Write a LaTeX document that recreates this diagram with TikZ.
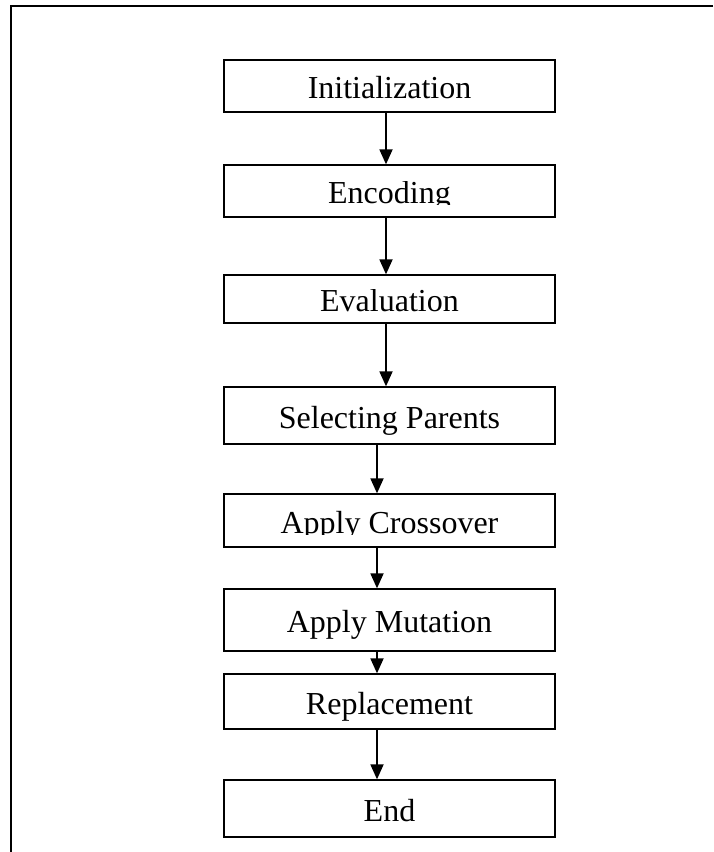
\documentclass[tikz,border=0pt]{standalone}
\usepackage{fontspec}
\setmainfont{Liberation Serif}
\usepackage{trimclip}
\usetikzlibrary{arrows.meta}

% text cut just under its baseline
\newcommand{\cuttext}[1]{\clipbox{0pt -1pt 0pt 0pt}{\raisebox{0pt}[\height][0pt]{#1}}}

\begin{document}
\begin{tikzpicture}[x=1pt, y=-1pt,
  stage/.style ={rectangle, draw, line width=1.3pt, minimum width=331pt,
                 inner sep=0pt, text height=25pt, text depth=0pt,
                 font=\fontsize{32}{36}\selectfont},
  flow/.style ={line width=1.8pt, -{Triangle[width=13pt,length=15pt]}}]
 \useasboundingbox (0,0) rectangle (713,852);
 \draw[line width=2pt] (713,6) -- (11,6) -- (11,852);

 \node[stage, minimum height=52pt] (init)  at (389.5,86)    {Initialization};
 \node[stage, minimum height=52pt] (enc)   at (389.5,191)   {\cuttext{Encoding}};
 \node[stage, minimum height=48pt] (eval)  at (389.5,299)   {\cuttext{Evaluation}};
 \node[stage, minimum height=57pt] (sel)   at (389.5,415.5) {Selecting Parents};
 \node[stage, minimum height=53pt] (cross) at (389.5,520.5) {\cuttext{Apply Crossover}};
 \node[stage, minimum height=62pt] (mut)   at (389.5,620)   {Apply Mutation};
 \node[stage, minimum height=55pt] (repl)  at (389.5,701.5) {Replacement};
 \node[stage, minimum height=57pt] (end)   at (389.5,808.5) {End};

 \draw[flow] ([xshift=-3.5pt]init.south) -- ([xshift=-3.5pt]init.south |- enc.north);
 \draw[flow] ([xshift=-3.5pt]enc.south) -- ([xshift=-3.5pt]enc.south |- eval.north);
 \draw[flow] ([xshift=-3.5pt]eval.south) -- ([xshift=-3.5pt]eval.south |- sel.north);
 \draw[flow] ([xshift=-12.5pt]sel.south) -- ([xshift=-12.5pt]sel.south |- cross.north);
 \draw[flow] ([xshift=-12.5pt]cross.south) -- ([xshift=-12.5pt]cross.south |- mut.north);
 \draw[flow] ([xshift=-12.5pt]mut.south) -- ([xshift=-12.5pt]mut.south |- repl.north);
 \draw[flow] ([xshift=-12.5pt]repl.south) -- ([xshift=-12.5pt]repl.south |- end.north);
\end{tikzpicture}
\end{document}
